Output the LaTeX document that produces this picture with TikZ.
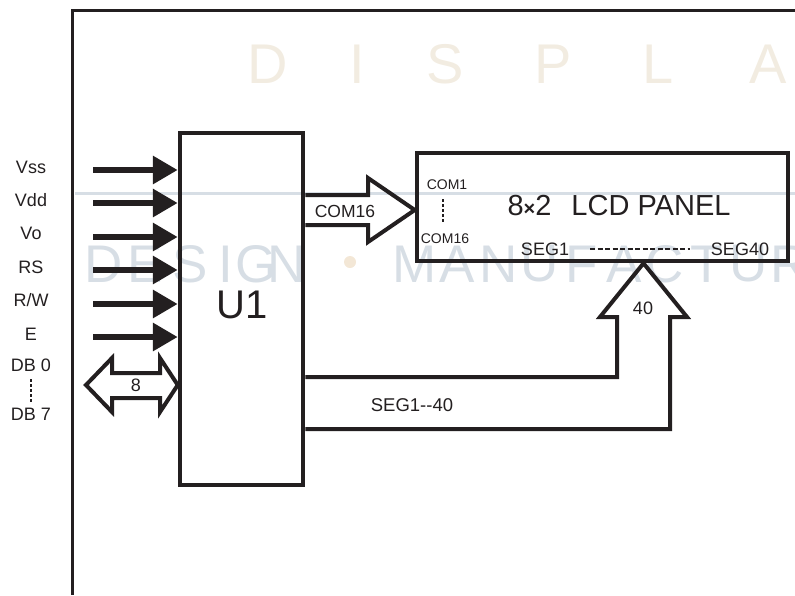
\documentclass[tikz,border=0pt]{standalone}
\usepackage{fontspec}
\setmainfont{Liberation Sans}
\usetikzlibrary{arrows.meta}
\definecolor{ink}{HTML}{231F20}
\definecolor{wmbeige}{HTML}{F2ECE1}
\definecolor{wmgray}{HTML}{D7DEE5}
\definecolor{wmdot}{HTML}{F3E7D6}
\begin{document}
\begin{tikzpicture}[x=1pt,y=-1pt,
  box/.style={draw=ink, line width=4.5pt, inner sep=0pt},
  hollow/.style={draw=ink, line width=4pt, line join=miter},
  inarrow/.style={draw=ink, line width=6.5pt, -{Triangle[length=25pt,width=27pt]}},
  framel/.style={draw=ink, line width=3pt, line join=miter},
  vdots/.style={draw=ink, line width=1.8pt, dash pattern=on 3pt off 2pt},
  hdots/.style={draw=ink, line width=1.8pt, dash pattern=on 5pt off 2.5pt},
  pinlbl/.style={text=ink, inner sep=0pt, font=\fontsize{18}{18}\selectfont},
  sig/.style={text=ink, inner sep=0pt, font=\fontsize{18}{18}\selectfont},
  tiny/.style={text=ink, inner sep=0pt, font=\fontsize{14}{14}\selectfont},
  wmA/.style={text=wmbeige, inner sep=0pt, font=\fontsize{56}{56}\selectfont},
  wmB/.style={text=wmgray, inner sep=0pt, font=\fontsize{53}{53}\selectfont},
]
\useasboundingbox (0,0) rectangle (795,595);
% watermark
\begin{scope}
\clip (0,0) rectangle (795,595);
\draw[wmgray, line width=3pt] (75,193) -- (795,193);
\foreach \l/\x in {D/268, I/357, S/445, P/553, L/658, A/768}
  \node[wmA] (wa\x) at (\x,64) {\l};
\foreach \l/\x in {D/104, E/145, S/190, I/226, G/256, N/287}
  \node[wmB] (wb\x) at (\x,264) {\l};
\fill[wmdot] (350,262) circle (6pt);
\foreach \l/\x in {M/415, A/457, N/499, U/540, F/582, A/624, C/665, T/707, U/749, R/790}
  \node[wmB] (wc\x) at (\x,264) {\l};
\end{scope}
% frame
\draw[framel] (795,10) -- (72,10) -- (72,595);
% blocks
\node[box, minimum width=123pt, minimum height=352pt] (u1) at (241.5,309) {};
\node[text=ink, inner sep=0pt, font=\fontsize{40}{40}\selectfont] (u1t) at (242,305) {U1};
\node[box, minimum width=371pt, minimum height=108pt] (lcd) at (602.5,207) {};
% input pins
\node[pinlbl] (lvss) at (31,167) {Vss};
\node[pinlbl] (lvdd) at (31,200) {Vdd};
\node[pinlbl] (lvo) at (31,233) {Vo};
\node[pinlbl] (lrs) at (31,267) {RS};
\node[pinlbl] (lrw) at (31,300) {R/W};
\node[pinlbl] (le) at (31,334) {E};
\node[pinlbl] (ldb0) at (31,365) {DB 0};
\node[pinlbl] (ldb7) at (31,414) {DB 7};
\coordinate (d1) at (31,379);
\coordinate (d2) at (31,402);
\draw[vdots] (d1) -- (d2);
\coordinate (a1) at (93,170);
\coordinate (a2) at (93,203);
\coordinate (a3) at (93,237);
\coordinate (a4) at (93,270);
\coordinate (a5) at (93,304);
\coordinate (a6) at (93,337);
\foreach \i in {1,...,6} \draw[inarrow] (a\i) -- (a\i -| u1.west);
% data bus double arrow
\coordinate (dbm) at (100,385);
\draw[hollow] (u1.west |- dbm) -- (160,358) -- (160,373) -- (112,373) -- (112,358) -- (86,385)
  -- (112,412) -- (112,398) -- (160,398) -- (160,412) -- cycle;
\node[sig] (n8) at (136,385) {8};
% COM arrow
\coordinate (ct) at (0,195);
\coordinate (cb) at (0,225);
\coordinate (cm) at (0,210);
\draw[hollow] (u1.east |- ct) -- (368,195) -- (368,178) -- (lcd.west |- cm) -- (368,242) -- (368,225) -- (u1.east |- cb);
\node[sig, font=\fontsize{17.5}{17.5}\selectfont] (com16l) at (345,211) {COM16};
% SEG arrow
\coordinate (st) at (0,377);
\coordinate (sb) at (0,429);
\coordinate (sx) at (643.5,0);
\draw[hollow] (u1.east |- st) -- (617,377) -- (617,317) -- (600,317) -- (lcd.south -| sx) -- (687,317)
  -- (670,317) -- (670,429) -- (u1.east |- sb);
\node[sig] (n40) at (643,308) {40};
\node[sig, font=\fontsize{18.5}{18.5}\selectfont] (segl) at (412,405) {SEG1-{}-40};
% LCD contents
\node[tiny] (com1) at (447,185) {COM1};
\node[tiny] (com16) at (445,239) {COM16};
\coordinate (c1) at (443,199);
\coordinate (c2) at (443,223);
\draw[vdots] (c1) -- (c2);
\node[text=ink, inner sep=0pt, font=\fontsize{29}{29}\selectfont] (title) at (619,206)
  {8{\fontsize{20}{20}\selectfont\bfseries ×}2\hspace{20pt}LCD PANEL};
\node[sig] (seg1) at (545,249) {SEG1};
\node[sig] (seg40) at (740,249) {SEG40};
\coordinate (e1) at (590,249);
\coordinate (e2) at (690,249);
\draw[hdots] (e1) -- (e2);
\end{tikzpicture}
\end{document}
